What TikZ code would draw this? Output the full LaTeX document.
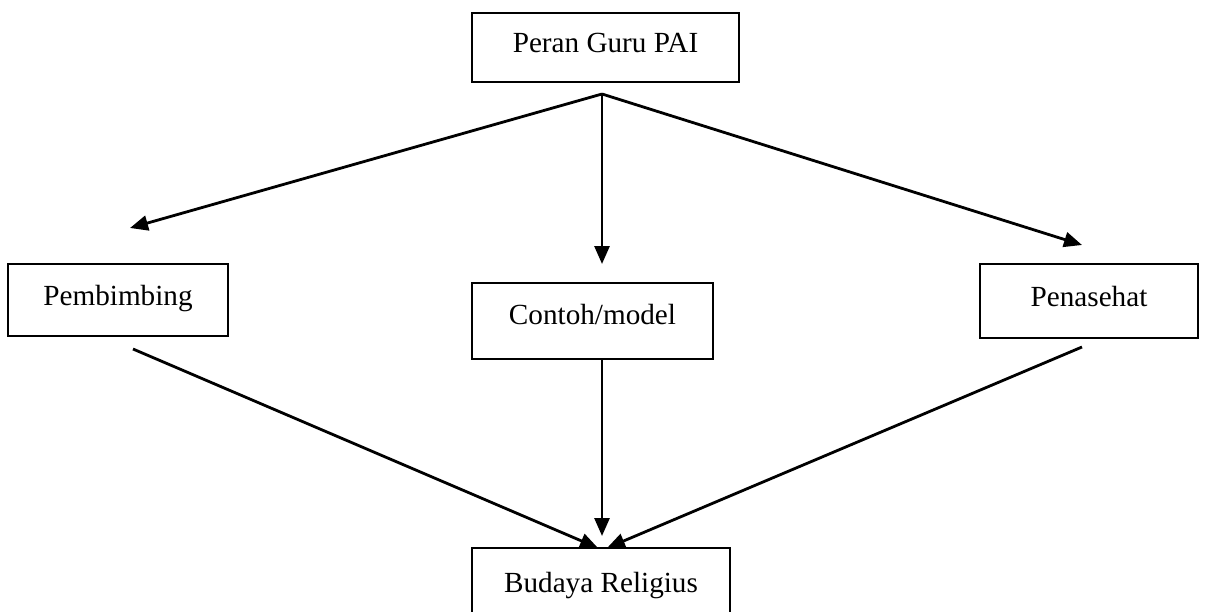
\documentclass[tikz,border=0pt]{standalone}
\usepackage{fontspec}
\setmainfont{Liberation Serif}
\usetikzlibrary{arrows.meta}
\begin{document}
\begin{tikzpicture}[x=1pt,y=-1pt,
  box/.style={draw,line width=2.4pt,inner sep=0pt,font=\fontsize{29.2}{34}\selectfont,text height=16pt,text depth=6pt},
  conn/.style={line width=2.8pt},
  arr/.style={conn,-{Triangle[length=18pt,width=15pt]}}]
\clip (0,0) rectangle (1206,612);
\fill[white] (0,0) rectangle (1206,612);
\node[box,minimum width=267pt,minimum height=69pt] (peran) at (605.5,47.5) {Peran Guru PAI};
\node[box,minimum width=220pt,minimum height=72pt] (pemb) at (118,300) {Pembimbing};
\node[box,minimum width=241pt,minimum height=76pt,text height=12pt,text depth=6pt] (contoh) at (592.5,321) {Contoh/model};
\node[box,minimum width=218pt,minimum height=74pt] (pena) at (1089,301) {Penasehat};
\node[box,minimum width=258pt,minimum height=72pt,text height=16pt,text depth=0pt] (budaya) at (601,584) {Budaya Religius};
\coordinate (fan) at (602,94);
\coordinate (tipL) at (130,228);
\coordinate (tipM) at (602,264);
\coordinate (tipR) at (1082,245);
\coordinate (sL) at (133,349);
\coordinate (sR) at (1082,347);
\coordinate (bL) at (598,548);
\coordinate (bM) at (602,536);
\coordinate (bR) at (607,548);
\draw[arr] (fan) -- (tipL);
\draw[arr] (fan) -- (tipM);
\draw[arr] (fan) -- (tipR);
\draw[arr] (sL) -- (bL);
\draw[arr] (contoh.south -| bM) -- (bM);
\draw[arr] (sR) -- (bR);
\end{tikzpicture}
\end{document}
